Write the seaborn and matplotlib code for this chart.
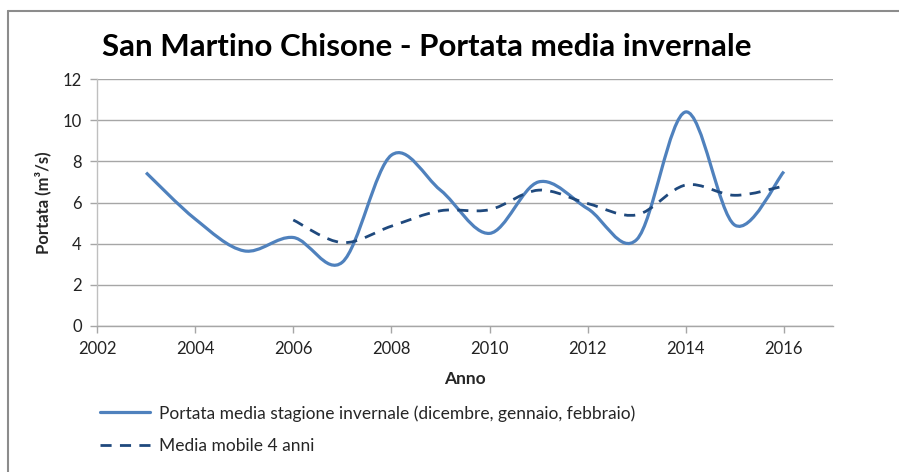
import numpy as np
import pandas as pd
import matplotlib
matplotlib.use("Agg")
import matplotlib.pyplot as plt
import seaborn as sns
from matplotlib.path import Path
from matplotlib.patches import PathPatch
from matplotlib.lines import Line2D

# Winter mean discharge, San Martino Chisone
anni = [2003, 2004, 2005, 2006, 2007, 2008, 2009, 2010, 2011, 2012, 2013, 2014, 2015, 2016]
portata = [7.45, 5.2, 3.65, 4.3, 3.1, 8.3, 6.6, 4.5, 7.0, 5.7, 4.2, 10.4, 4.9, 7.5]

# 4-year moving average
anni_media = [2006, 2007, 2008, 2009, 2010, 2011, 2012, 2013, 2014, 2015, 2016]
media_mobile = [5.15, 4.05, 4.85, 5.6, 5.65, 6.6, 5.95, 5.4, 6.85, 6.35, 6.8]

x_ticks = [2002, 2004, 2006, 2008, 2010, 2012, 2014, 2016]
y_ticks = [0, 2, 4, 6, 8, 10, 12]

label_portata = "Portata media stagione invernale (dicembre, gennaio, febbraio)"
label_media = "Media mobile 4 anni"

sns.set_theme(style="white")
plt.rcParams["font.family"] = ["Lato", "DejaVu Sans"]

fig = plt.figure(figsize=(8.99, 4.72), dpi=100)
ax = fig.add_axes([97 / 899, 1 - 326 / 472, (833 - 97) / 899, (326 - 79) / 472])


def smooth_path(xs, ys):
    """Cubic Bezier path through the points (Catmull-Rom style control points)."""
    pts = np.column_stack([xs, ys]).astype(float)
    n = len(pts)
    verts = [pts[0]]
    codes = [Path.MOVETO]
    for i in range(n - 1):
        p_prev = pts[i - 1] if i > 0 else pts[i]
        p_next2 = pts[i + 2] if i + 2 < n else pts[i + 1]
        c1 = pts[i] + (pts[i + 1] - p_prev) / 6.0
        c2 = pts[i + 1] - (p_next2 - pts[i]) / 6.0
        verts += [c1, c2, pts[i + 1]]
        codes += [Path.CURVE4] * 3
    return Path(verts, codes)


df_p = pd.DataFrame({"Anno": anni, "Portata": portata})
df_m = pd.DataFrame({"Anno": anni_media, "Portata": media_mobile})

blu = "#4F81BD"
blu_scuro = "#1F497D"
tratteggio = (0, (4, 3))

# Straight seaborn lines carry the data; the smoothed curves are drawn over them
sns.lineplot(data=df_p, x="Anno", y="Portata", ax=ax, color=blu, lw=2.3, legend=False)
sns.lineplot(data=df_m, x="Anno", y="Portata", ax=ax, color=blu_scuro, lw=2.0, legend=False)
for line in ax.get_lines():
    line.set_visible(False)

ax.add_patch(PathPatch(smooth_path(anni, portata), fill=False, edgecolor=blu,
                       lw=2.3, capstyle="butt", joinstyle="round", zorder=3))
ax.add_patch(PathPatch(smooth_path(anni_media, media_mobile), fill=False, edgecolor=blu_scuro,
                       lw=2.0, linestyle=tratteggio, capstyle="butt", zorder=4))

ax.set_xlim(2002, 2017)
ax.set_ylim(0, 12)
ax.set_xticks(x_ticks)
ax.set_yticks(y_ticks)
ax.set_xticklabels([str(t) for t in x_ticks])
ax.set_yticklabels([str(t) for t in y_ticks])

ax.grid(axis="y", color="#a6a6a6", lw=1.0)
ax.set_axisbelow(True)
for s in ["top", "right"]:
    ax.spines[s].set_visible(False)
ax.spines["left"].set_color("#bfbfbf")
ax.spines["bottom"].set_color("#a6a6a6")
ax.spines["left"].set_linewidth(1.0)
ax.spines["bottom"].set_linewidth(1.0)
ax.tick_params(axis="both", which="major", direction="out", length=5, width=1,
               color="#a6a6a6", bottom=True, left=True, pad=6,
               labelsize=12, labelcolor="#222222")

ax.set_xlabel("Anno", fontsize=12.5, fontweight="bold", labelpad=10)
ax.set_ylabel("Portata (m³/s)", fontsize=12, fontweight="bold", labelpad=8)

fig.text(427 / 899, 1 - 47 / 472, "San Martino Chisone - Portata media invernale",
         fontsize=22.5, fontweight="bold", ha="center", va="center", color="#000000")

handles = [Line2D([], [], color=blu, lw=2.3),
           Line2D([], [], color=blu_scuro, lw=2.0, linestyle=tratteggio)]
fig.legend(handles, [label_portata, label_media], loc="upper left",
           bbox_to_anchor=(100 / 899, 1 - 405 / 472), frameon=False, fontsize=12.5,
           handlelength=2.9, handletextpad=0.5, labelspacing=0.95, borderpad=0,
           borderaxespad=0)

# outer chart frame: only its top and left edges fall inside the image
y_top = 1 - 11 / 472
x_left = 8 / 899
fig.add_artist(Line2D([x_left, 1.0], [y_top, y_top], transform=fig.transFigure,
                      color="#8c8c8c", lw=1.5))
fig.add_artist(Line2D([x_left, x_left], [0.0, y_top], transform=fig.transFigure,
                      color="#8c8c8c", lw=1.5))

fig.savefig("out.png", dpi=100)
